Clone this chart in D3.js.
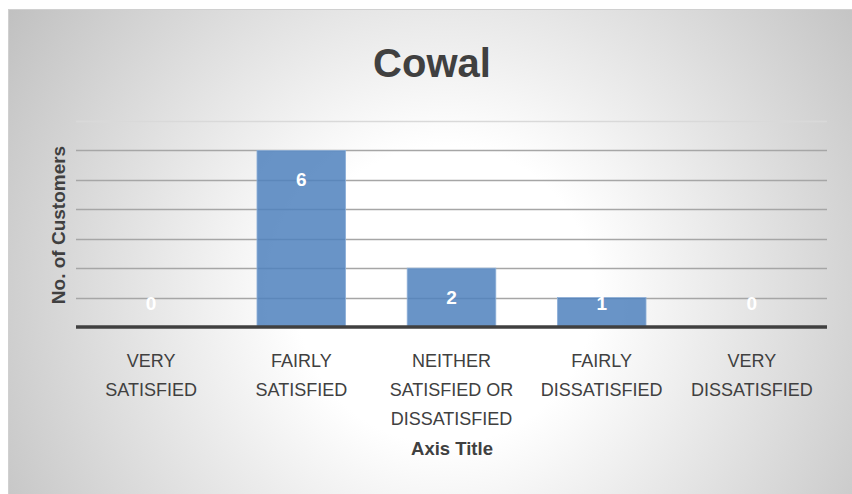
<!DOCTYPE html>
<html>
<head>
<meta charset="utf-8">
<script src="https://cdn.jsdelivr.net/npm/d3@7"></script>
<style>
  body { margin: 0; background: #fff; }
  svg { display: block; font-family: "Liberation Sans", Arial, sans-serif; }
</style>
</head>
<body>
<svg id="chart" width="852" height="494"></svg>
<script>
// data
var categories = [
    ["VERY", "SATISFIED"],
    ["FAIRLY", "SATISFIED"],
    ["NEITHER", "SATISFIED OR", "DISSATISFIED"],
    ["FAIRLY", "DISSATISFIED"],
    ["VERY", "DISSATISFIED"]
];
var values = [0, 6, 2, 1, 0];
var gridTicks = [1, 2, 3, 4, 5, 6, 7];
var chartTitle = "Cowal";
var yTitle = "No. of Customers";
var xTitle = "Axis Title";

var svg = d3.select("#chart");

// background gradient
var defs = svg.append("defs");
var grad = defs.append("radialGradient")
    .attr("id", "bg")
    .attr("gradientUnits", "userSpaceOnUse")
    .attr("cx", 445).attr("cy", 295)
    .attr("r", 530);
grad.append("stop").attr("offset", "0%").attr("stop-color", "#ffffff");
grad.append("stop").attr("offset", "28%").attr("stop-color", "#ffffff");
grad.append("stop").attr("offset", "100%").attr("stop-color", "#bfbfbf");

svg.append("rect")
    .attr("x", 8.5).attr("y", 9.5)
    .attr("width", 844).attr("height", 485)
    .attr("fill", "url(#bg)")
    .attr("stroke", "#d0d0d0")
    .attr("stroke-width", 1);

var plotLeft = 76, plotRight = 827, plotTop = 121, plotBottom = 327;

var x = d3.scaleBand()
    .domain(d3.range(values.length))
    .range([plotLeft, plotRight])
    .paddingInner(0.41)
    .paddingOuter(0.205);

var y = d3.scaleLinear()
    .domain([0, 7])
    .range([plotBottom, plotTop]);

// gridlines
svg.append("g")
    .selectAll("line")
    .data(gridTicks)
    .enter().append("line")
    .attr("x1", plotLeft).attr("x2", plotRight)
    .attr("y1", function(d) { return Math.round(y(d)) + 0.5; })
    .attr("y2", function(d) { return Math.round(y(d)) + 0.5; })
    .attr("stroke", function(d) { return d == 7 ? "#d9d9d9" : "#a6a6a6"; })
    .attr("stroke-width", 1.3);

// bars
svg.append("g")
    .selectAll("rect")
    .data(values)
    .enter().append("rect")
    .attr("x", function(d, i) { return x(i); })
    .attr("width", x.bandwidth())
    .attr("y", function(d) { return y(d); })
    .attr("height", function(d) { return plotBottom - y(d); })
    .attr("fill", "#4f81bd")
    .attr("fill-opacity", 0.85)
    .attr("stroke", "#8eb0d8")
    .attr("stroke-width", 0.8);

// baseline
svg.append("line")
    .attr("x1", plotLeft).attr("x2", plotRight)
    .attr("y1", y(0)).attr("y2", y(0))
    .attr("stroke", "#404040")
    .attr("stroke-width", 3.5);

// data labels
svg.append("g")
    .selectAll("text")
    .data(values)
    .enter().append("text")
    .attr("x", function(d, i) { return x(i) + x.bandwidth() / 2; })
    .attr("y", function(d) { return Math.min(y(d) + 36, y(0) - 17); })
    .attr("text-anchor", "middle")
    .attr("fill", "#ffffff")
    .attr("font-weight", "bold")
    .attr("font-size", 19)
    .text(function(d) { return d; });

// category labels
var xAxis = d3.axisBottom(x).tickSize(0).tickFormat("");
var gx = svg.append("g")
    .attr("transform", "translate(0," + plotBottom + ")")
    .call(xAxis);
gx.select(".domain").remove();
gx.selectAll(".tick").each(function(i) {
    var t = d3.select(this).append("text")
        .attr("fill", "#404040")
        .attr("font-size", 18)
        .attr("text-anchor", "middle");
    categories[i].forEach(function(line, k) {
        t.append("tspan")
            .attr("x", 0)
            .attr("y", 40 + k * 29)
            .text(line);
    });
});

// titles
svg.append("text")
    .attr("x", 432).attr("y", 77)
    .attr("text-anchor", "middle")
    .attr("fill", "#404040")
    .attr("font-weight", "bold")
    .attr("font-size", 40)
    .text(chartTitle);

svg.append("text")
    .attr("transform", "translate(65,225) rotate(-90)")
    .attr("text-anchor", "middle")
    .attr("fill", "#404040")
    .attr("font-weight", "bold")
    .attr("font-size", 19)
    .text(yTitle);

svg.append("text")
    .attr("x", 452).attr("y", 455)
    .attr("text-anchor", "middle")
    .attr("fill", "#404040")
    .attr("font-weight", "bold")
    .attr("font-size", 18.5)
    .text(xTitle);
</script>
</body>
</html>
